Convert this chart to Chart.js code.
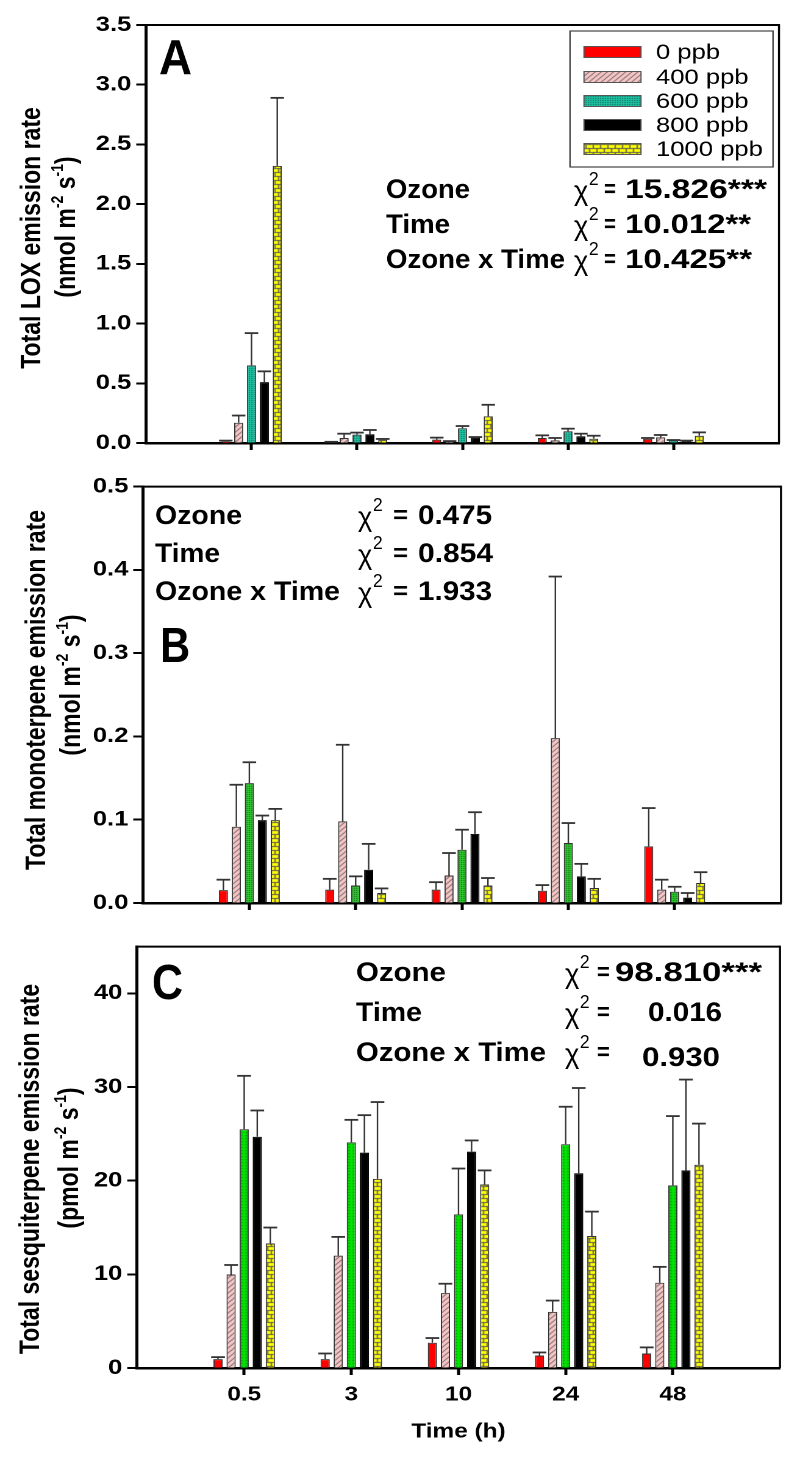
<!DOCTYPE html>
<html>
<head>
<meta charset="utf-8">
<script src="https://cdn.jsdelivr.net/npm/chart.js@4.4.0/dist/chart.umd.min.js"></script>
<style>
html, body { margin: 0; padding: 0; background: #fff; }
body { width: 800px; height: 1461px; position: relative; overflow: hidden; }
.panel { position: absolute; left: 0; width: 656px; transform: scaleX(1.2195); transform-origin: 0 0; }
</style>
</head>
<body>
<div class="panel" style="top:0;height:470px"><canvas id="chartA"></canvas></div>
<div class="panel" style="top:470px;height:460px"><canvas id="chartB"></canvas></div>
<div class="panel" style="top:930px;height:531px"><canvas id="chartC"></canvas></div>
<script>
const timeLabels = ['0.5', '3', '10', '24', '48'];
const ozoneLabels = ['0 ppb', '400 ppb', '600 ppb', '800 ppb', '1000 ppb'];

// rows = ozone level (0, 400, 600, 800, 1000 ppb), columns = time
// A: total LOX (nmol m-2 s-1), mean and top of error bar
const loxMean = [
    [0.012, 0.008, 0.028, 0.042, 0.036],
    [0.17, 0.042, 0.012, 0.022, 0.047],
    [0.65, 0.07, 0.123, 0.098, 0.022],
    [0.51, 0.073, 0.045, 0.056, 0.017],
    [2.32, 0.028, 0.223, 0.036, 0.061]
];
const loxUpper = [
    [0.02, 0.01, 0.045, 0.064, 0.042],
    [0.23, 0.078, 0.016, 0.042, 0.067],
    [0.92, 0.087, 0.142, 0.12, 0.025],
    [0.60, 0.109, 0.05, 0.078, 0.02],
    [2.89, 0.034, 0.32, 0.061, 0.089]
];
// B: total monoterpene (nmol m-2 s-1)
const monoMean = [
    [0.0155, 0.016, 0.016, 0.0147, 0.068],
    [0.0915, 0.098, 0.033, 0.198, 0.016],
    [0.144, 0.021, 0.064, 0.072, 0.0135],
    [0.0995, 0.040, 0.083, 0.032, 0.0064],
    [0.0995, 0.012, 0.021, 0.018, 0.024]
];
const monoUpper = [
    [0.028, 0.029, 0.025, 0.0215, 0.114],
    [0.142, 0.190, 0.060, 0.392, 0.028],
    [0.169, 0.032, 0.088, 0.096, 0.0195],
    [0.105, 0.071, 0.109, 0.047, 0.012],
    [0.113, 0.0175, 0.030, 0.029, 0.037]
];
// C: total sesquiterpene (pmol m-2 s-1)
const sesqMean = [
    [0.95, 0.95, 2.7, 1.34, 1.55],
    [9.98, 12.0, 8.0, 6.0, 9.1],
    [25.5, 24.1, 16.4, 23.9, 19.5],
    [24.7, 23.0, 23.1, 20.8, 21.1],
    [13.3, 20.2, 19.6, 14.1, 21.7]
];
const sesqUpper = [
    [1.16, 1.55, 3.2, 1.66, 2.2],
    [11.0, 14.0, 9.0, 7.2, 10.8],
    [31.2, 26.5, 21.3, 27.9, 26.9],
    [27.5, 27.0, 24.3, 29.9, 30.8],
    [15.0, 28.4, 21.1, 16.7, 26.1]
];

const loxTicks = [0, 0.5, 1.0, 1.5, 2.0, 2.5, 3.0, 3.5];
const monoTicks = [0, 0.1, 0.2, 0.3, 0.4, 0.5];
const sesqTicks = [0, 10, 20, 30, 40];

const S = 800 / 656;           // the figure is stretched sideways
const px = v => v / S;         // page x -> canvas x
const FONT = "'Liberation Sans', Arial, Helvetica, sans-serif";

function tile(w, h, paint) {
    const c = document.createElement('canvas');
    c.width = w; c.height = h;
    paint(c.getContext('2d'));
    return c.getContext('2d').createPattern(c, 'repeat');
}
const hatch = tile(5, 5, g => {
    g.fillStyle = '#f9c6c6'; g.fillRect(0, 0, 5, 5);
    g.strokeStyle = '#555'; g.lineWidth = 1;
    g.beginPath();
    g.moveTo(0, 5); g.lineTo(5, 0);
    g.moveTo(-1, 1); g.lineTo(1, -1);
    g.moveTo(4, 6); g.lineTo(6, 4);
    g.stroke();
});
function crossTile(base, ink) {
    return tile(4, 4, g => {
        g.fillStyle = base; g.fillRect(0, 0, 4, 4);
        g.fillStyle = ink;
        g.fillRect(0, 0, 1, 1); g.fillRect(2, 2, 1, 1);
        g.fillRect(2, 0, 1, 1); g.fillRect(0, 2, 1, 1);
    });
}
const teal = crossTile('#1fc9a8', '#0c5a4c');
const green = crossTile('#2fd02f', '#135513');
const dotted = tile(4, 3, g => {
    g.fillStyle = '#00e400'; g.fillRect(0, 0, 4, 3);
    g.fillStyle = '#1f4f1f'; g.fillRect(1.5, 1, 1, 1.2);
});
const brick = tile(6, 8, g => {
    g.fillStyle = '#ffff00'; g.fillRect(0, 0, 6, 8);
    g.strokeStyle = '#555'; g.lineWidth = 1;
    g.beginPath();
    g.moveTo(0, 0.5); g.lineTo(6, 0.5);
    g.moveTo(0, 4.5); g.lineTo(6, 4.5);
    g.moveTo(0.5, 0); g.lineTo(0.5, 4.5);
    g.moveTo(3.5, 4.5); g.lineTo(3.5, 8);
    g.stroke();
});

const errorBars = {
    id: 'errorBars',
    afterDatasetsDraw(chart) {
        const ctx = chart.ctx;
        const y = chart.scales.y;
        chart.data.datasets.forEach((ds, di) => {
            chart.getDatasetMeta(di).data.forEach((bar, i) => {
                const up = ds.upper[i];
                if (up == null) return;
                const top = y.getPixelForValue(up);
                const cap = bar.width * 1.5;
                ctx.save();
                ctx.strokeStyle = '#333';
                ctx.lineWidth = 1.2;
                ctx.beginPath();
                ctx.moveTo(bar.x, bar.y);
                ctx.lineTo(bar.x, top);
                ctx.stroke();
                ctx.lineWidth = 1.8;
                ctx.beginPath();
                ctx.moveTo(bar.x - cap / 2, top);
                ctx.lineTo(bar.x + cap / 2, top);
                ctx.stroke();
                ctx.restore();
            });
        });
    }
};

// draw text squeezed or widened to a page-x span
function fitText(ctx, text, x0, x1, y, font) {
    ctx.font = font;
    const w = ctx.measureText(text).width;
    const k = (px(x1) - px(x0)) / w;
    ctx.save();
    ctx.translate(px(x0), y);
    ctx.scale(k, 1);
    ctx.fillText(text, 0, 0);
    ctx.restore();
}

function drawRich(ctx, parts, x, y) {
    let total = 0;
    const widths = parts.map(p => {
        ctx.font = `bold ${p.s}px ${FONT}`;
        const w = ctx.measureText(p.t).width;
        total += w;
        return w;
    });
    let cx = x - total / 2;
    parts.forEach((p, i) => {
        ctx.font = `bold ${p.s}px ${FONT}`;
        ctx.fillText(p.t, cx, y + (p.dy || 0));
        cx += widths[i];
    });
}

const decor = {
    id: 'decor',
    afterDraw(chart, args, o) {
        const ctx = chart.ctx;
        const a = chart.chartArea;
        const T = o.top;
        ctx.save();
        ctx.strokeStyle = '#000';
        ctx.lineWidth = 2;
        ctx.beginPath(); ctx.moveTo(a.left - 1, a.top); ctx.lineTo(a.right, a.top); ctx.stroke();
        ctx.lineWidth = 1.7;
        ctx.beginPath(); ctx.moveTo(a.right, a.top - 1); ctx.lineTo(a.right, a.bottom); ctx.stroke();

        ctx.fillStyle = '#000';
        ctx.textAlign = 'left';
        ctx.textBaseline = 'alphabetic';

        // y axis title, two rotated lines
        o.yTitle.forEach(line => {
            ctx.save();
            ctx.translate(px(line.x), line.y - T);
            ctx.rotate(-Math.PI / 2);
            drawRich(ctx, line.parts, 0, 0);
            ctx.restore();
        });

        // panel letter
        const L0 = o.letter;
        fitText(ctx, L0.t, L0.x0, L0.x1, L0.y - T, `bold 49px ${FONT}`);

        // statistics
        const st = o.stats;
        st.rows.forEach(r => {
            const y = r.y - T;
            fitText(ctx, r.label[0], r.label[1], r.label[2], y, `bold 27px ${FONT}`);
            ctx.font = `28px ${FONT}`;
            ctx.save();
            ctx.translate(px(st.chiX), y + 2);
            ctx.scale(0.8, 1);
            ctx.fillText('\u03C7', 0, 0);
            const cw = ctx.measureText('\u03C7').width;
            ctx.font = `18px ${FONT}`;
            ctx.fillText('2', cw + 0.5, -15);
            ctx.restore();
            fitText(ctx, '=', st.eq[0], st.eq[1], y - 1, `bold 24px ${FONT}`);
            fitText(ctx, r.val[0], r.val[1], r.val[2], y + (r.dy || 0), `bold 27px ${FONT}`);
        });

        // legend box
        if (o.legend) {
            const L = o.legend;
            ctx.strokeStyle = '#444';
            ctx.lineWidth = 1.2;
            ctx.strokeRect(px(L.x0), L.y0 - T, px(L.x1) - px(L.x0), L.y1 - L.y0);
            chart.data.datasets.forEach((ds, i) => {
                const cy = L.rows[i] - T;
                ctx.fillStyle = ds.backgroundColor;
                ctx.fillRect(px(L.sx0), cy - 5.5, px(L.sx1) - px(L.sx0), 11);
                ctx.strokeStyle = '#555';
                ctx.lineWidth = 1;
                ctx.strokeRect(px(L.sx0), cy - 5.5, px(L.sx1) - px(L.sx0), 11);
                ctx.fillStyle = '#000';
                ctx.font = `21px ${FONT}`;
                ctx.textBaseline = 'middle';
                ctx.fillText(ds.label, px(L.tx), cy + 1);
                ctx.textBaseline = 'alphabetic';
            });
        }
        ctx.restore();
    }
};

function unitLine(unit) {
    return [
        {t: '(' + unit + ' m', s: 23},
        {t: '-2', s: 14, dy: -10},
        {t: ' s', s: 23},
        {t: '-1', s: 14, dy: -10},
        {t: ')', s: 23}
    ];
}

function buildPanel(id, opt) {
    const canvas = document.getElementById(id);
    const H = canvas.parentNode.clientHeight;
    const W = 656;
    const datasets = ozoneLabels.map((name, k) => ({
        label: name,
        data: [null, ...opt.mean[k], null],
        upper: [null, ...opt.upper[k], null],
        backgroundColor: opt.fills[k],
        borderColor: k === 3 ? '#000' : '#333',
        borderWidth: 1,
        categoryPercentage: 0.61,
        barPercentage: 0.7
    }));
    const tickFont = {family: FONT, size: 21, weight: 'bold'};
    return new Chart(canvas, {
        type: 'bar',
        data: {labels: ['', ...timeLabels, ''], datasets: datasets},
        options: {
            responsive: true,
            maintainAspectRatio: false,
            animation: false,
            events: [],
            devicePixelRatio: 2,
            layout: {padding: {top: opt.area.top, right: W - px(opt.area.right), left: 0, bottom: 0}},
            scales: {
                x: {
                    offset: false,
                    grid: {
                        offset: false, drawOnChartArea: false, drawTicks: true,
                        tickLength: 7, tickWidth: 2.5,
                        tickColor: c => (c.index === 0 || c.index === 6) ? 'rgba(0,0,0,0)' : '#000'
                    },
                    border: {color: '#000', width: 2.5},
                    ticks: {display: opt.xLabels, autoSkip: false, maxRotation: 0, padding: 8, color: '#000',
                        font: {family: FONT, size: 20, weight: 'bold'}},
                    title: {display: opt.xLabels, text: 'Time (h)', color: '#000',
                        font: {family: FONT, size: 20, weight: 'bold'}, padding: {top: 4, bottom: 17}},
                    afterFit: s => { s.height = H - opt.area.bottom; }
                },
                y: {
                    min: 0,
                    max: opt.max,
                    afterBuildTicks: s => { s.ticks = opt.ticks.map(v => ({value: v})); },
                    ticks: {callback: v => opt.fmt(v), color: '#000', font: tickFont, padding: 4},
                    grid: {drawOnChartArea: false, drawTicks: true, tickLength: 8, tickWidth: 2, tickColor: '#000'},
                    border: {color: '#000', width: 2.5},
                    afterFit: s => { s.width = px(opt.area.left); }
                }
            },
            plugins: {legend: {display: false}, tooltip: {enabled: false}, decor: opt.decor}
        },
        plugins: [errorBars, decor]
    });
}

buildPanel('chartA', {
    mean: loxMean, upper: loxUpper, ticks: loxTicks, max: 3.5, fmt: v => v.toFixed(1),
    fills: ['#ff0000', hatch, teal, '#000000', brick],
    area: {left: 146, right: 779, top: 25, bottom: 443},
    xLabels: false,
    decor: {
        top: 0,
        yTitle: [
            {x: 40, y: 238, parts: [{t: 'Total LOX emission rate', s: 23}]},
            {x: 75, y: 227, parts: unitLine('nmol')}
        ],
        letter: {t: 'A', x0: 159, x1: 192, y: 74},
        stats: {
            chiX: 574, eq: [604, 616],
            rows: [
                {y: 198, label: ['Ozone', 386, 470], val: ['15.826***', 625, 767]},
                {y: 233, label: ['Time', 386, 450], val: ['10.012**', 625, 751]},
                {y: 268, label: ['Ozone x Time', 386, 565], val: ['10.425**', 625, 752]}
            ]
        },
        legend: {x0: 570, x1: 773, y0: 31, y1: 167, sx0: 584, sx1: 641, tx: 656, rows: [52, 77, 101, 125, 149]}
    }
});

buildPanel('chartB', {
    mean: monoMean, upper: monoUpper, ticks: monoTicks, max: 0.5, fmt: v => v.toFixed(1),
    fills: ['#ff0000', hatch, green, '#000000', brick],
    area: {left: 143, right: 781, top: 14, bottom: 433},
    xLabels: false,
    decor: {
        top: 470,
        yTitle: [
            {x: 45, y: 690, parts: [{t: 'Total monoterpene emission rate', s: 23}]},
            {x: 80, y: 685, parts: unitLine('nmol')}
        ],
        letter: {t: 'B', x0: 160, x1: 190, y: 662},
        stats: {
            chiX: 358, eq: [393, 408],
            rows: [
                {y: 524, label: ['Ozone', 155, 242], val: ['0.475', 418, 492]},
                {y: 562, label: ['Time', 155, 220], val: ['0.854', 418, 493]},
                {y: 600, label: ['Ozone x Time', 155, 340], val: ['1.933', 418, 492]}
            ]
        }
    }
});

buildPanel('chartC', {
    mean: sesqMean, upper: sesqUpper, ticks: sesqTicks, max: 45, fmt: v => String(v),
    fills: ['#ff0000', hatch, dotted, '#000000', brick],
    area: {left: 137, right: 780, top: 13, bottom: 438},
    xLabels: true,
    decor: {
        top: 930,
        yTitle: [
            {x: 39, y: 1169, parts: [{t: 'Total sesquiterpene emission rate', s: 23}]},
            {x: 78, y: 1158, parts: unitLine('pmol')}
        ],
        letter: {t: 'C', x0: 152, x1: 183, y: 999},
        stats: {
            chiX: 565, eq: [597, 610],
            rows: [
                {y: 981, label: ['Ozone', 356, 446], val: ['98.810***', 615, 762]},
                {y: 1021, label: ['Time', 356, 422], val: ['0.016', 648, 722]},
                {y: 1061, label: ['Ozone x Time', 356, 546], val: ['0.930', 642, 720], dy: 5}
            ]
        }
    }
});
</script>
</body>
</html>
